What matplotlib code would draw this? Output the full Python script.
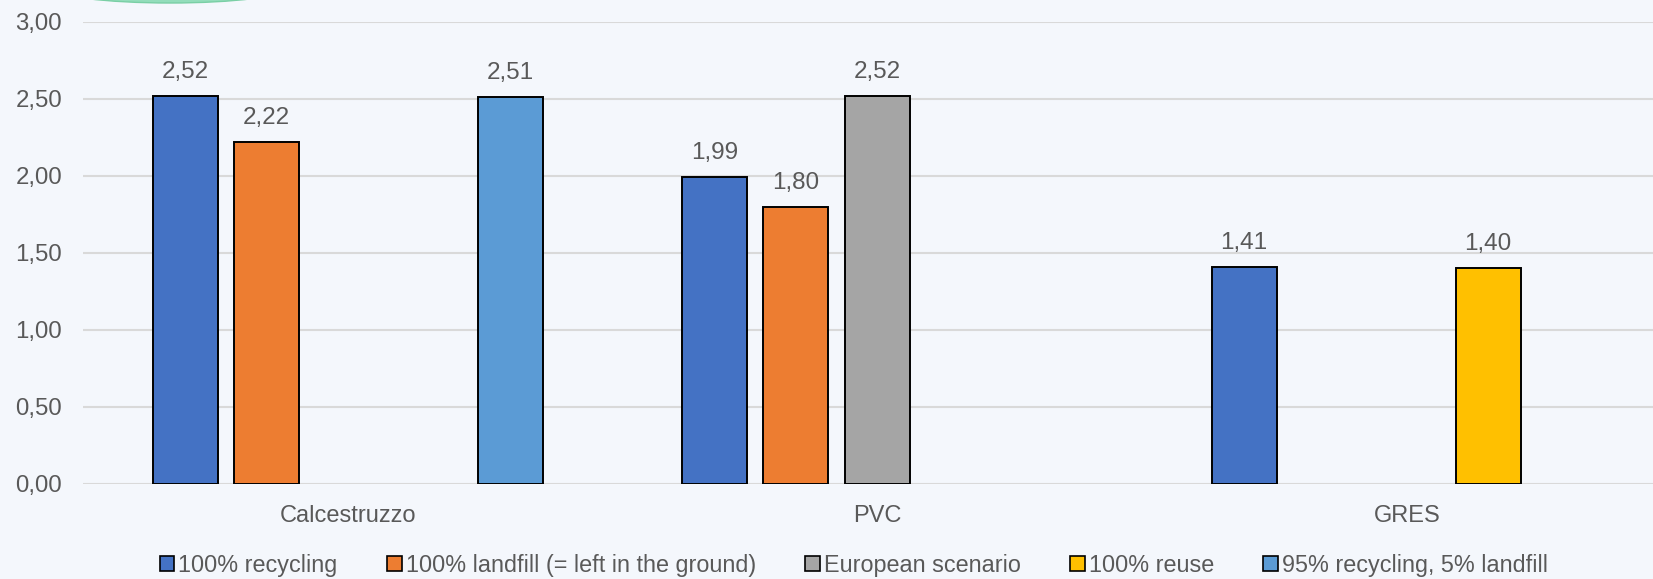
import numpy as np
import matplotlib
matplotlib.use("Agg")
import matplotlib.pyplot as plt
from matplotlib.patches import Ellipse, Patch

# Data
categories = ["Calcestruzzo", "PVC", "GRES"]
series_names = ["100% recycling", "100% landfill (= left in the ground)",
                "European scenario", "100% reuse", "95% recycling, 5% landfill"]
recycling = [2.52, 1.99, 1.41]
landfill = [2.22, 1.80, np.nan]
european = [np.nan, 2.52, np.nan]
reuse = [np.nan, np.nan, 1.40]
recycling_95 = [2.51, np.nan, np.nan]
series_values = [recycling, landfill, european, reuse, recycling_95]
colors = ["#4472C4", "#ED7D31", "#A5A5A5", "#FFC000", "#5B9BD5"]

bg = "#F4F7FC"
txt = "#595959"
plt.rcParams["font.family"] = ["Liberation Sans", "DejaVu Sans"]

fig = plt.figure(figsize=(16.53, 5.79), dpi=100, facecolor=bg)
ax = fig.add_axes([0.0502, 0.1641, 0.961, 0.798], facecolor=bg)

x = np.arange(len(categories))
step = 0.1536
width = 0.1228
for i, (vals, c) in enumerate(zip(series_values, colors)):
    for xi, v in zip(x, vals):
        if np.isnan(v):
            continue
        xp = xi + (i - 2) * step
        ax.bar(xp, v, width=width, color=c, edgecolor="black", linewidth=1.4, zorder=3)
        ax.annotate(f"{v:.2f}".replace(".", ","), (xp, v), xytext=(0, 13),
                    textcoords="offset points", ha="center", va="baseline",
                    fontsize=17.5, color=txt)

ax.set_xlim(-0.5, 2.5)
ax.set_ylim(0, 3.0)
yt = np.arange(0, 3.01, 0.5)
ax.set_yticks(yt)
ax.set_yticklabels([f"{t:.2f}".replace(".", ",") for t in yt])
ax.set_xticks(x)
ax.set_xticklabels(categories)
ax.tick_params(axis="y", length=0, pad=15, labelsize=17.3, labelcolor=txt)
ax.tick_params(axis="x", length=0, pad=15, labelsize=17, labelcolor=txt)
ax.grid(axis="y", color="#D9D9D9", linewidth=1.5, zorder=0)
for s in ax.spines.values():
    s.set_visible(False)

handles = [Patch(facecolor=c, edgecolor="black", linewidth=1.2) for c in colors]
leg = fig.legend(handles, series_names, loc="center", bbox_to_anchor=(0.5164, 0.024),
                 ncol=5, frameon=False, handlelength=0.64, handleheight=0.64,
                 handletextpad=0.17, columnspacing=2.1,
                 prop={"family": "Liberation Sans", "size": 16.8})
for t in leg.get_texts():
    t.set_color(txt)

# decorative shape clipped at the top edge
fig.patches.append(Ellipse((170 / 1653, 1 + 12 / 579), 234 / 1653, 30 / 579,
                           transform=fig.transFigure, facecolor="#93DDBB",
                           edgecolor="#7ACFA5", linewidth=1))

fig.savefig("out.png", dpi=100, facecolor=bg)
